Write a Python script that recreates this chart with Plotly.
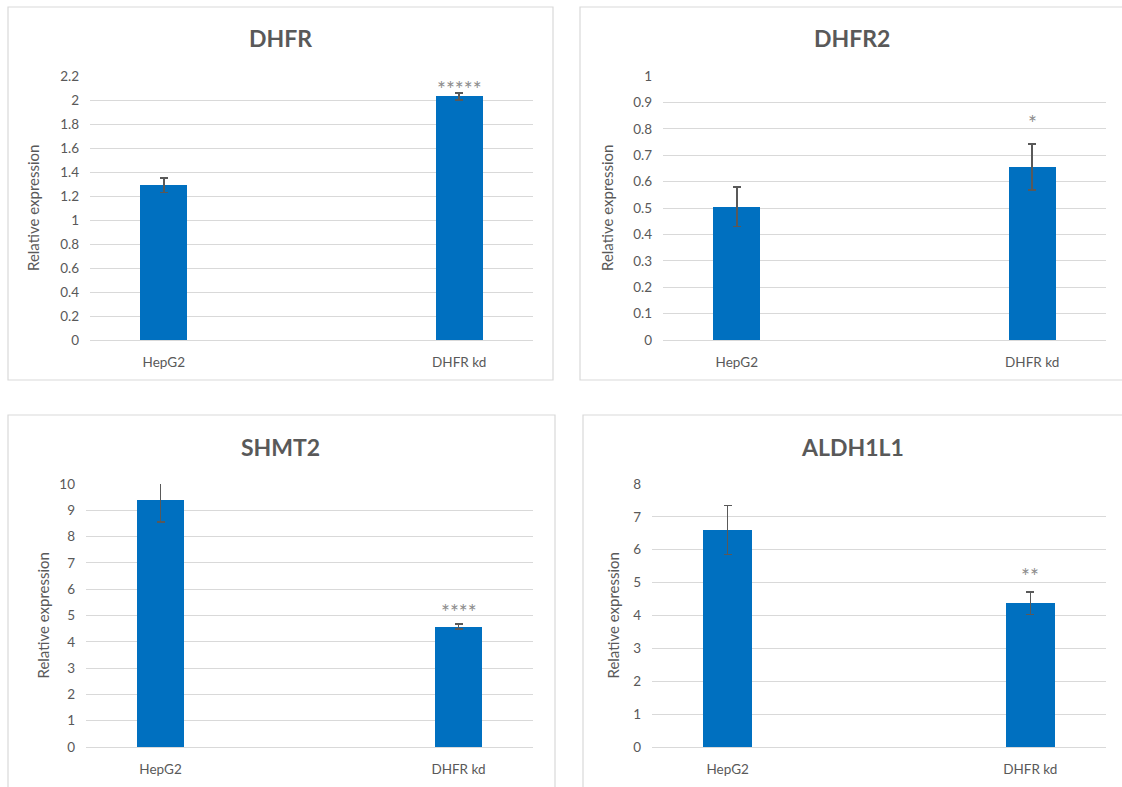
import plotly.graph_objects as go

W, H = 1122, 787

groups = ["HepG2", "DHFR kd"]

genes = ["DHFR", "DHFR2", "SHMT2", "ALDH1L1"]
dhfr_vals = [1.29, 2.03]
dhfr_err = [0.06, 0.03]
dhfr2_vals = [0.505, 0.655]
dhfr2_err = [0.075, 0.087]
shmt2_vals = [9.39, 4.58]
shmt2_err = [0.84, 0.09]
aldh1l1_vals = [6.6, 4.37]
aldh1l1_err = [0.75, 0.34]

stars = ["*****", "*", "****", "**"]
star_y = [2.12, 0.835, 5.25, 5.3]
y_max = [2.2, 1.0, 10, 8]
y_step = [0.2, 0.1, 1, 1]

values = [dhfr_vals, dhfr2_vals, shmt2_vals, aldh1l1_vals]
errors = [dhfr_err, dhfr2_err, shmt2_err, aldh1l1_err]

# pixel layout of each panel: plot area (x0, x1, ytop, ybottom), box, title & y-title positions
plot_px = [(90, 533, 76, 340), (663, 1106, 76, 340), (86, 533, 484, 747), (652, 1106, 484, 747)]
box_px = [(8, 553, 7, 380), (580, 1130, 7, 380), (8, 555, 415, 795), (583, 1130, 415, 795)]
title_px = [(280, 38), (852, 38), (280, 447), (852, 447)]
ytitle_x = [33, 607, 42, 612]

BLUE = "#0070C0"
TXT = "#595959"
GRID = "#D9D9D9"
FONT = "Lato"

fig = go.Figure()


def px_x(v):
    return v / W


def px_y(v):
    return 1 - v / H


annotations = []
shapes = []
for i in range(4):
    ax = "" if i == 0 else str(i + 1)
    x0, x1, yt, yb = plot_px[i]
    fig.add_trace(go.Bar(
        x=[0, 1], y=values[i],
        width=0.16,
        marker=dict(color=BLUE, line=dict(width=0)),
        error_y=dict(type="data", array=errors[i], visible=True,
                     color=TXT, thickness=1.5, width=4),
        xaxis="x" + ax, yaxis="y" + ax,
        showlegend=False, hoverinfo="skip",
    ))
    n = round(y_max[i] / y_step[i])
    tickvals = [round(k * y_step[i], 3) for k in range(n + 1)]
    ticktext = [("%g" % t) for t in tickvals]
    fig.layout["xaxis" + ax] = dict(
        domain=[px_x(x0), px_x(x1)], range=[-0.25, 1.25],
        tickvals=[0, 1], ticktext=groups, showgrid=False, zeroline=False,
        showline=False, ticks="", anchor="y" + ax, automargin=False,
        ticklabelstandoff=12,
        tickfont=dict(family=FONT, size=13.5, color=TXT),
        fixedrange=True,
    )
    fig.layout["yaxis" + ax] = dict(
        domain=[px_y(yb), px_y(yt)], range=[0, y_max[i]],
        tickvals=tickvals, ticktext=ticktext, showgrid=True, gridcolor=GRID,
        gridwidth=1, zeroline=True, zerolinecolor=GRID, zerolinewidth=1,
        showline=False, ticks="", anchor="x" + ax, ticklabelstandoff=10,
        automargin=False,
        tickfont=dict(family=FONT, size=13.5, color=TXT),
        fixedrange=True,
    )
    # significance marks
    annotations.append(dict(
        x=1, y=star_y[i], xref="x" + ax, yref="y" + ax, text=stars[i],
        xanchor="center", yanchor="middle", yshift=-3,
        showarrow=False, font=dict(family=FONT, size=21, color="#8C8C8C"),
    ))
    # title
    tx, ty = title_px[i]
    annotations.append(dict(
        x=px_x(tx), y=px_y(ty), xref="paper", yref="paper",
        xanchor="center", yanchor="middle",
        text="<b>%s</b>" % genes[i], showarrow=False,
        font=dict(family=FONT, size=23, color=TXT),
    ))
    # y axis title
    annotations.append(dict(
        x=px_x(ytitle_x[i]), y=px_y((yt + yb) / 2), xref="paper", yref="paper",
        xanchor="center", yanchor="middle",
        text="Relative expression", textangle=-90, showarrow=False,
        font=dict(family=FONT, size=15, color=TXT),
    ))
    bx0, bx1, by0, by1 = box_px[i]
    shapes.append(dict(
        type="rect", xref="paper", yref="paper",
        x0=px_x(bx0), x1=px_x(bx1), y0=px_y(by1), y1=px_y(by0),
        line=dict(color=GRID, width=1.2), fillcolor="rgba(0,0,0,0)", layer="below",
    ))

fig.update_layout(
    width=W, height=H,
    margin=dict(l=0, r=0, t=0, b=0, pad=0),
    paper_bgcolor="white", plot_bgcolor="white",
    annotations=annotations, shapes=shapes,
    bargap=0,
)

fig.write_html("out.html")
